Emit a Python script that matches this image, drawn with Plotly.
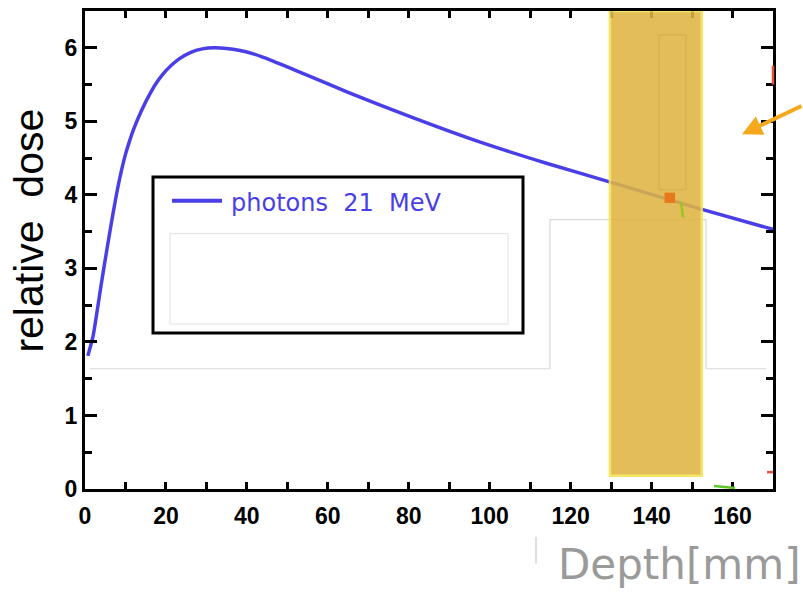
import plotly.graph_objects as go

# ---- data ----
depth_mm = [0.7, 2.0, 3.0, 4.0, 5.0, 6.0, 7.0, 8.0, 9.0, 10.0, 11.0, 12.0, 14.0, 16.0, 18.0, 20.0, 23.0, 26.0,
            29.0, 32.0, 35.0, 38.0, 42.0, 46.0, 50.0, 55.0, 65.0, 81.0, 97.5, 114.0, 130.0, 152.0, 170.0]
rel_dose = [1.81, 2.08, 2.42, 2.78, 3.12, 3.45, 3.77, 4.07, 4.33, 4.55, 4.73, 4.89, 5.15, 5.37, 5.55, 5.69, 5.84, 5.935,
            5.985, 6.00, 5.99, 5.965, 5.91, 5.83, 5.74, 5.625, 5.395, 5.05, 4.72, 4.43, 4.17, 3.81, 3.53]
series_name = "photons  21  MeV"
marker_x = [144.5]
marker_y = [3.96]
x_ticks = [0, 20, 40, 60, 80, 100, 120, 140, 160]
y_ticks = [0, 1, 2, 3, 4, 5, 6]
highlight_x = [129.7, 152.4]
highlight_y = [0.18, 6.5]

W, H = 803, 593
L, R, T, B = 85, 30, 8, 104
PW, PH = W - L - R, H - T - B

def px(x):  # pixel -> paper x
    return (x - L) / PW

def py(y):  # pixel -> paper y
    return (H - B - y) / PH

BLUE = "#4A3EE6"

fig = go.Figure()
fig.add_trace(go.Scatter(x=depth_mm, y=rel_dose, mode="lines", name=series_name,
                         line=dict(color=BLUE, width=3.5, shape="spline", smoothing=0.6),
                         showlegend=False))

axis_common = dict(showline=True, linecolor="black", linewidth=3, mirror="allticks",
                   ticks="inside", tickcolor="black", tickwidth=2.5, showgrid=False,
                   zeroline=False,
                   tickfont=dict(family="Liberation Sans", size=23, color="black", weight="bold"))

fig.update_xaxes(range=[0, 170], tickvals=x_ticks, ticklen=7, ticklabelstandoff=4,
                 minor=dict(dtick=10, tick0=0, ticks="inside", ticklen=7, tickwidth=2.5, tickcolor="black"),
                 **axis_common)
fig.update_yaxes(range=[0, 6.5], tickvals=y_ticks, ticklen=12,
                 minor=dict(dtick=0.5, tick0=0, ticks="inside", ticklen=7, tickwidth=2.5, tickcolor="black"),
                 **axis_common)

shapes = []
gray = "#D9D9D9"
# faint overlay outline
shapes.append(dict(type="path", xref="paper", yref="paper",
                   path=f"M{px(90)},{py(368)} L{px(550)},{py(368)} L{px(550)},{py(218)} L{px(706)},{py(218)} L{px(706)},{py(368)} L{px(766)},{py(368)}",
                   line=dict(color=gray, width=1.2), layer="below"))
# legend box
shapes.append(dict(type="rect", xref="paper", yref="paper", x0=px(153), x1=px(523), y0=py(332), y1=py(175),
                   line=dict(color="black", width=3), fillcolor="rgba(0,0,0,0)"))
shapes.append(dict(type="rect", xref="paper", yref="paper", x0=px(170), x1=px(508), y0=py(323), y1=py(232),
                   line=dict(color="#E2E2E2", width=1), fillcolor="rgba(0,0,0,0)"))
shapes.append(dict(type="line", xref="paper", yref="paper", x0=px(172), x1=px(222), y0=py(199), y1=py(199),
                   line=dict(color=BLUE, width=4)))
# highlight band
shapes.append(dict(type="rect", xref="x", yref="y", x0=highlight_x[0], x1=highlight_x[1],
                   y0=highlight_y[0], y1=highlight_y[1],
                   fillcolor="rgb(223,181,68)", opacity=0.88,
                   line=dict(color="#F7E34F", width=2.5), layer="above"))
# small overlay bits (drawn above the band)
shapes.append(dict(type="rect", xref="paper", yref="paper", x0=px(659), x1=px(686), y0=py(188), y1=py(32),
                   line=dict(color="rgba(160,130,50,0.25)", width=1), fillcolor="rgba(0,0,0,0)", layer="above"))
shapes.append(dict(type="line", xref="paper", yref="paper", x0=px(681), x1=px(683), y0=py(200), y1=py(216),
                   line=dict(color="#9BC520", width=2.5), layer="above"))
for mx, my in zip(marker_x, marker_y):
    shapes.append(dict(type="rect", xref="x", yref="y", x0=mx - 1.3, x1=mx + 1.3, y0=my - 0.07, y1=my + 0.07,
                       fillcolor="#E8781C", line=dict(width=0), layer="above"))
shapes.append(dict(type="line", xref="paper", yref="paper", x0=px(773), x1=px(773), y0=py(63), y1=py(82),
                   line=dict(color="#E8503A", width=2.5), layer="above"))
shapes.append(dict(type="line", xref="paper", yref="paper", x0=px(767), x1=px(773), y0=py(472), y1=py(472),
                   line=dict(color="#E8503A", width=2.5), layer="above"))
shapes.append(dict(type="line", xref="paper", yref="paper", x0=px(714), x1=px(735), y0=py(486), y1=py(488),
                   line=dict(color="#5DC828", width=2.5), layer="above"))
shapes.append(dict(type="line", xref="paper", yref="paper", x0=px(536), x1=px(536), y0=py(537), y1=py(564),
                   line=dict(color="#C8C8C8", width=1.2)))

annotations = [
    dict(text="relative  dose", xref="paper", yref="paper", x=px(29), y=py(229), textangle=-90,
         showarrow=False, font=dict(family="Liberation Sans", size=41, color="black"),
         xanchor="center", yanchor="middle"),
    dict(text=series_name, xref="paper", yref="paper", x=px(229), y=py(201), showarrow=False,
         font=dict(family="DejaVu Sans", size=24, color=BLUE), xanchor="left", yanchor="middle"),
    dict(text="Depth[mm]", xref="paper", yref="paper", x=px(679), y=py(565), showarrow=False,
         font=dict(family="DejaVu Sans", size=42, color="#9A9A9A"), xanchor="center", yanchor="middle"),
    dict(text="", xref="paper", yref="paper", x=px(742), y=py(132), ax=61, ay=-29,
         showarrow=True, arrowhead=2, arrowsize=1, arrowwidth=4, arrowcolor="#F5A81C"),
]

fig.update_layout(width=W, height=H, margin=dict(l=L, r=R, t=T, b=B),
                  paper_bgcolor="white", plot_bgcolor="white",
                  shapes=shapes, annotations=annotations, showlegend=False)

fig.write_html("out.html", config={"displayModeBar": False},
               post_script="document.body.style.margin='0';document.body.style.overflow='hidden';")
